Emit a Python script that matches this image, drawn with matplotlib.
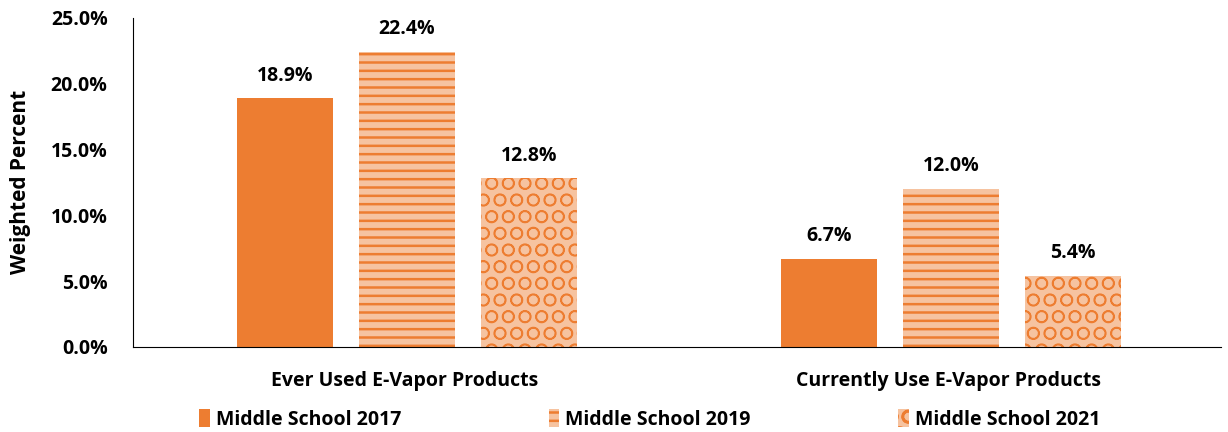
import matplotlib
matplotlib.use("Agg")
import matplotlib.pyplot as plt
from matplotlib.ticker import FuncFormatter
import numpy as np

categories = ["Ever Used E-Vapor Products", "Currently Use E-Vapor Products"]
series_names = ["Middle School 2017", "Middle School 2019", "Middle School 2021"]
ms2017 = [18.9, 6.7]
ms2019 = [22.4, 12.0]
ms2021 = [12.8, 5.4]

plt.rcParams["font.family"] = ["Open Sans", "DejaVu Sans"]
plt.rcParams["font.weight"] = "bold"
plt.rcParams["hatch.linewidth"] = 1.8

fig = plt.figure(figsize=(12.28, 4.32), dpi=100)
ax = fig.add_axes([0.108, 0.197, 0.886, 0.762])

x = np.arange(len(categories))
w = 0.177
step = 0.224
styles = [
    dict(color="#ED7D31", hatch=None, hlw=1.8),
    dict(color="#F6C3A0", hatch="--", hlw=1.8),
    dict(color="#F6C3A0", hatch="O", hlw=1.1),
]
for i, (vals, st) in enumerate(zip([ms2017, ms2019, ms2021], styles)):
    bars = ax.bar(x + 0.004 + (i - 1) * step, vals, w, color=st["color"], hatch=st["hatch"],
                  edgecolor="#ED7D31", linewidth=0, label=series_names[i])
    for b in bars:
        if hasattr(b, "set_hatch_linewidth"):
            b.set_hatch_linewidth(st["hlw"])
    for b, v in zip(bars, vals):
        ax.text(b.get_x() + b.get_width() / 2, v + 0.95, f"{v:.1f}%",
                ha="center", va="bottom", fontsize=14, fontweight="bold")

ax.set_ylim(0, 25)
ax.set_xlim(-0.5, 1.5)
ax.set_yticks(np.arange(0, 25.1, 5))
ax.yaxis.set_major_formatter(FuncFormatter(lambda v, p: f"{v:.1f}%"))
ax.set_xticks(x)
ax.set_xticklabels(categories)
ax.tick_params(axis="both", length=0, labelsize=14)
ax.tick_params(axis="x", pad=17)
ax.tick_params(axis="y", pad=18)
for lbl in ax.get_xticklabels() + ax.get_yticklabels():
    lbl.set_fontweight("bold")
ax.spines["top"].set_visible(False)
ax.spines["right"].set_visible(False)
ax.set_ylabel("Weighted Percent", fontsize=15, fontweight="bold", labelpad=14)

leg = fig.legend(loc="lower center", bbox_to_anchor=(0.529, -0.035), ncol=3, frameon=False,
                 fontsize=14, handlelength=0.55, handleheight=1.0, handletextpad=0.3,
                 columnspacing=7.6)
for t in leg.get_texts():
    t.set_fontweight("bold")

fig.savefig("out.png", dpi=100)
